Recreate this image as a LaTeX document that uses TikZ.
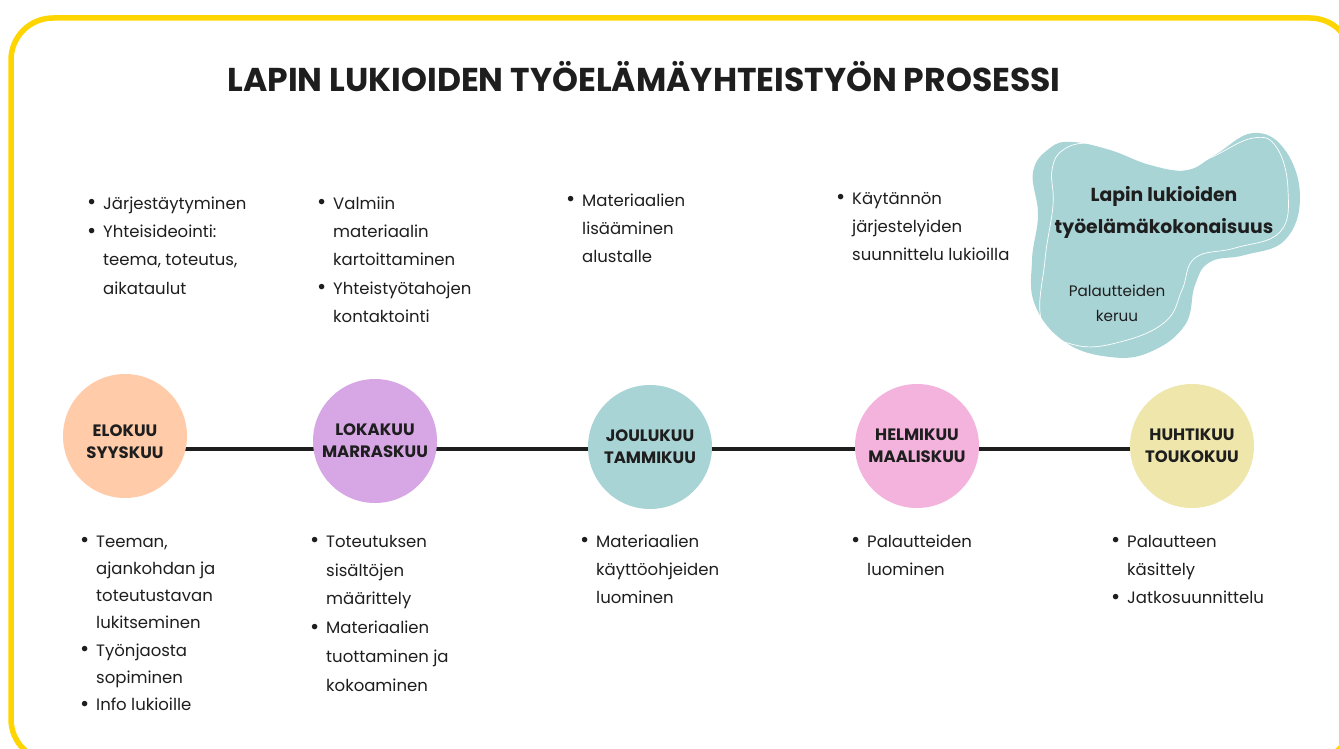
\documentclass[tikz,border=0pt]{standalone}
\usepackage{fontspec}
\usepackage{graphicx}
\setmainfont{Poppins}
\newfontfamily\bodyfont{Poppins}
\newfontfamily\headfont{Poppins}
\definecolor{borderyellow}{HTML}{FFD500}
\definecolor{peach}{HTML}{FFCBA9}
\definecolor{lavender}{HTML}{D6A7E4}
\definecolor{tealc}{HTML}{A9D4D6}
\definecolor{pinkc}{HTML}{F3B3DC}
\definecolor{sand}{HTML}{EFE6AB}
\definecolor{ink}{HTML}{1E1E1E}
\newcommand{\bul}{\makebox[16pt][l]{\raisebox{-0.6pt}{\scalebox{1.35}{\textbullet}}}}
\newcommand{\ind}{\hspace*{16pt}}
\tikzset{
  month/.style={circle, minimum size=124pt, inner sep=0pt, align=center,
    font=\headfont\bfseries\fontsize{16.5}{22}\selectfont, text=ink},
  monthlabel/.style={inner sep=0pt, align=center,
    font=\headfont\bfseries\fontsize{16.5}{22}\selectfont, text=ink},
  bodytext/.style={anchor=north west, inner sep=0pt, align=left, text=ink,
    font=\bodyfont\fontsize{16.5}{28.4}\selectfont},
  timeline/.style={draw=ink, line width=4pt}
}
\begin{document}
\begin{tikzpicture}[x=1pt,y=-1pt]
\useasboundingbox (0,0) rectangle (1339,749);
\fill[white] (0,0) rectangle (1339,749);
\begin{scope}
\clip (0,0) rectangle (1339,749);
\draw[borderyellow, line width=5.5pt, rounded corners=42pt] (11,18) rectangle (1352,761);
\end{scope}

% title
\node[font=\headfont\bfseries\fontsize{33}{38}\selectfont, text=ink, anchor=base] (title) at (644,92) {LAPIN LUKIOIDEN TYÖELÄMÄYHTEISTYÖN PROSESSI};

% blob
\fill[tealc] plot[smooth cycle, tension=0.7] coordinates {
 (1033,172) (1050,148) (1072,142) (1110,150) (1150,165) (1187,170) (1215,155) (1253,133)
 (1285,150) (1300,197) (1285,240) (1245,255) (1210,262) (1195,285) (1185,325)
 (1150,352) (1110,357) (1065,342) (1035,305) (1032,260) (1038,215)};
\draw[white, line width=0.7pt] plot[smooth cycle, tension=0.7] coordinates {
 (1052,170) (1063,150) (1090,143) (1130,150) (1177,170) (1210,158) (1253,138)
 (1277,148) (1288,190) (1280,232) (1235,248) (1195,258) (1182,290)
 (1165,322) (1120,342) (1075,345) (1042,322) (1045,260) (1053,205)};
\node[font=\headfont\bfseries\fontsize{18.8}{32}\selectfont, text=ink, align=center] (blobtitle) at (1164,212) {Lapin lukioiden\\työelämäkokonaisuus};
\node[font=\bodyfont\fontsize{15.2}{25}\selectfont, text=ink, align=center] (blobsub) at (1117,303) {Palautteiden\\keruu};

% timeline
\coordinate (t1) at (125,449);
\coordinate (t5) at (1192,449);
\draw[timeline] (t1) -- (t5);

% months
\node[month, fill=peach] (m1) at (125,436) {};
\node[monthlabel] (m1text) at ([yshift=-6pt]m1.center) {ELOKUU\\SYYSKUU};
\node[month, fill=lavender] (m2) at (375,441) {LOKAKUU\\MARRASKUU};
\node[month, fill=tealc] (m3) at (650,447) {JOULUKUU\\TAMMIKUU};
\node[month, fill=pinkc] (m4) at (917,446) {HELMIKUU\\MAALISKUU};
\node[month, fill=sand] (m5) at (1192,446) {HUHTIKUU\\TOUKOKUU};

% upper texts
\node[bodytext] (u1) at (87,189) {\strut\bul Järjestäytyminen\\\bul Yhteisideointi:\\\ind teema, toteutus,\\\ind aikataulut};
\node[bodytext] (u2) at (317,189) {\strut\bul Valmiin\\\ind materiaalin\\\ind kartoittaminen\\\bul Yhteistyötahojen\\\ind kontaktointi};
\node[bodytext] (u3) at (566,186) {\strut\bul Materiaalien\\\ind lisääminen\\\ind alustalle};
\node[bodytext] (u4) at (836,184) {\strut\bul Käytännön\\\ind järjestelyiden\\\ind suunnittelu lukioilla};

% lower texts
\node[bodytext, font=\bodyfont\fontsize{16.5}{27.2}\selectfont] (l1) at (80,528) {\strut\bul Teeman,\\\ind ajankohdan ja\\\ind toteutustavan\\\ind lukitseminen\\\bul Työnjaosta\\\ind sopiminen\\\bul Info lukioille};
\node[bodytext, font=\bodyfont\fontsize{16.5}{28.8}\selectfont] (l2) at (310,527) {\strut\bul Toteutuksen\\\ind sisältöjen\\\ind määrittely\\\bul Materiaalien\\\ind tuottaminen ja\\\ind kokoaminen};
\node[bodytext] (l3) at (580,527) {\strut\bul Materiaalien\\\ind käyttöohjeiden\\\ind luominen};
\node[bodytext] (l4) at (851,527) {\strut\bul Palautteiden\\\ind luominen};
\node[bodytext] (l5) at (1111,527) {\strut\bul Palautteen\\\ind käsittely\\\bul Jatkosuunnittelu};
\end{tikzpicture}
\end{document}
